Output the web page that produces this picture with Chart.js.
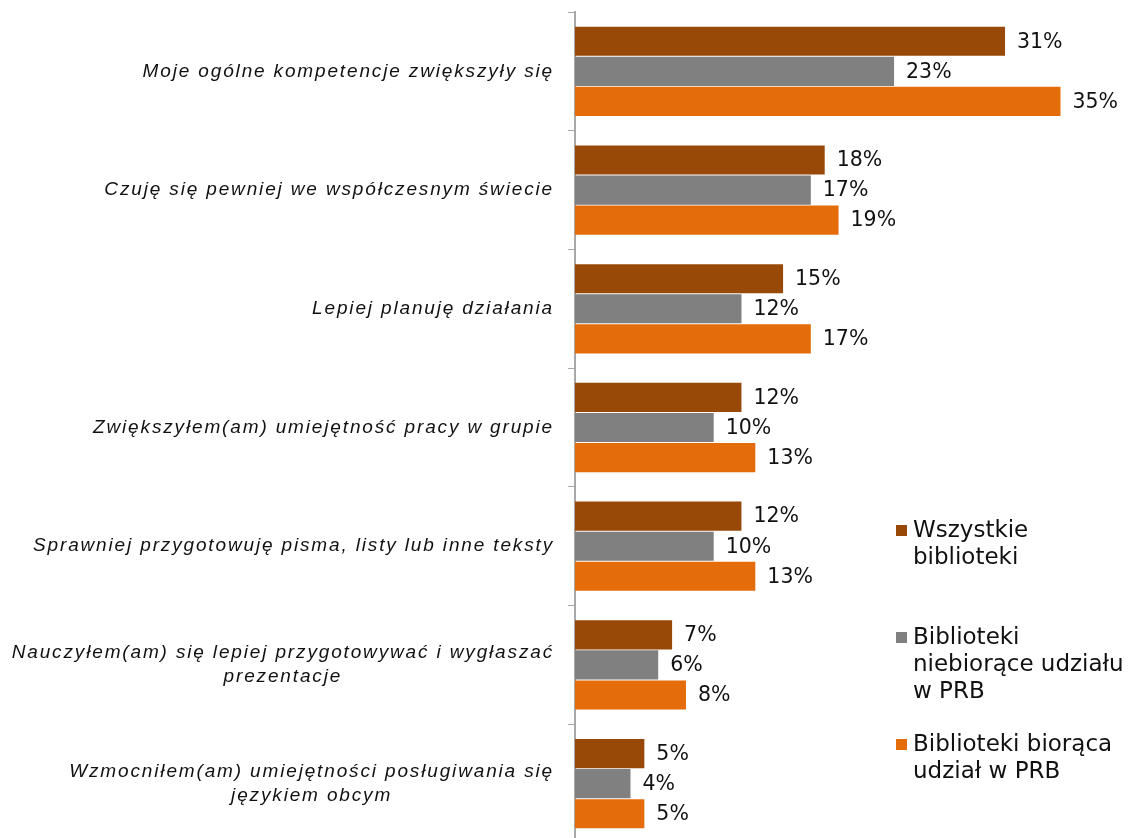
<!DOCTYPE html>
<html lang="pl">
<head>
<meta charset="utf-8">
<title>Kompetencje uczestników</title>
<script src="https://cdn.jsdelivr.net/npm/chart.js@4.4.1/dist/chart.umd.min.js"></script>
<style>
  html, body { margin: 0; padding: 0; background: #fff; overflow: hidden; }
  #wrap { width: 1128px; height: 838px; overflow: hidden; }
</style>
</head>
<body>
<div id="wrap"><canvas id="wykres" width="1128" height="846"></canvas></div>
<script>
// Kategorie - każda pozycja to kolejne linie etykiety
const kategorie = [
  ['Moje ogólne kompetencje zwiększyły się'],
  ['Czuję się pewniej we współczesnym świecie'],
  ['Lepiej planuję działania'],
  ['Zwiększyłem(am) umiejętność pracy w grupie'],
  ['Sprawniej przygotowuję pisma, listy lub inne teksty'],
  ['Nauczyłem(am) się lepiej przygotowywać i wygłaszać', 'prezentacje'],
  ['Wzmocniłem(am) umiejętności posługiwania się', 'językiem obcym']
];
const serie = [
  ['Wszystkie', 'biblioteki'],
  ['Biblioteki', 'niebiorące udziału', 'w PRB'],
  ['Biblioteki biorąca', 'udział w PRB']
];
const wszystkie = [31, 18, 15, 12, 12, 7, 5];
const niebiorace = [23, 17, 12, 10, 10, 6, 4];
const biorace = [35, 19, 17, 13, 13, 8, 5];
const kolory = ['#984807', '#808080', '#E46C0A'];

// Etykiety osi Y rysowane ręcznie: blok wyrównany do prawej, linie wyśrodkowane
const etykietyKategorii = {
  id: 'etykietyKategorii',
  afterDraw(chart) {
    const ctx = chart.ctx, os = chart.scales.y;
    ctx.save();
    ctx.font = 'italic 19px "Liberation Sans", Arial, sans-serif';
    ctx.letterSpacing = '1.85px';
    ctx.fillStyle = '#111';
    ctx.textAlign = 'center';
    ctx.textBaseline = 'middle';
    const prawa = chart.chartArea.left - 21;
    const wysLinii = 24;
    chart.data.labels.forEach((linie, i) => {
      const srodek = os.getPixelForValue(i);
      const szer = Math.max(...linie.map(l => ctx.measureText(l).width));
      const x = prawa - szer / 2;
      linie.forEach((l, j) => {
        ctx.fillText(l, x, srodek + (j - (linie.length - 1) / 2) * wysLinii);
      });
    });
    ctx.restore();
  }
};

// Wartości procentowe przy końcach słupków
const wartosci = {
  id: 'wartosci',
  afterDatasetsDraw(chart) {
    const ctx = chart.ctx;
    ctx.save();
    ctx.font = '20.5px "DejaVu Sans", Verdana, sans-serif';
    ctx.fillStyle = '#111';
    ctx.textAlign = 'left';
    ctx.textBaseline = 'middle';
    chart.data.datasets.forEach((ds, d) => {
      chart.getDatasetMeta(d).data.forEach((bar, i) => {
        ctx.fillText(ds.data[i] + '%', bar.x + 12, bar.y + 1);
      });
    });
    ctx.restore();
  }
};

// Legenda w prawym dolnym rogu
const legenda = {
  id: 'legenda',
  afterDraw(chart) {
    const ctx = chart.ctx;
    ctx.save();
    ctx.font = '23px "DejaVu Sans", Verdana, sans-serif';
    ctx.textAlign = 'left';
    ctx.textBaseline = 'middle';
    chart.data.datasets.forEach((ds, d) => {
      const y0 = 531 + d * 107;
      ctx.fillStyle = ds.backgroundColor;
      ctx.fillRect(896, y0 - 6, 11, 11);
      ctx.fillStyle = '#111';
      ds.label.forEach((linia, j) => ctx.fillText(linia, 913, y0 + j * 27));
    });
    ctx.restore();
  }
};

const dane = [wszystkie, niebiorace, biorace];

new Chart(document.getElementById('wykres'), {
  type: 'bar',
  data: {
    labels: kategorie,
    datasets: dane.map((wart, k) => ({
      label: serie[k],
      data: wart,
      backgroundColor: kolory[k],
      borderWidth: 0,
      barPercentage: 0.97,
      categoryPercentage: 0.76
    }))
  },
  options: {
    indexAxis: 'y',
    responsive: false,
    animation: false,
    layout: { padding: { top: 12, right: 12, bottom: 3, left: 0 } },
    plugins: {
      legend: { display: false },
      tooltip: { enabled: false }
    },
    scales: {
      x: { display: false, min: 0, max: 39 },
      y: {
        grid: { drawOnChartArea: false, drawTicks: true, tickLength: 7, color: '#a8a8a8', offset: true },
        border: { display: true, color: '#a8a8a8', width: 2 },
        ticks: { display: false },
        afterFit(s) { s.width = 575; }
      }
    }
  },
  plugins: [etykietyKategorii, wartosci, legenda]
});
</script>
</body>
</html>
